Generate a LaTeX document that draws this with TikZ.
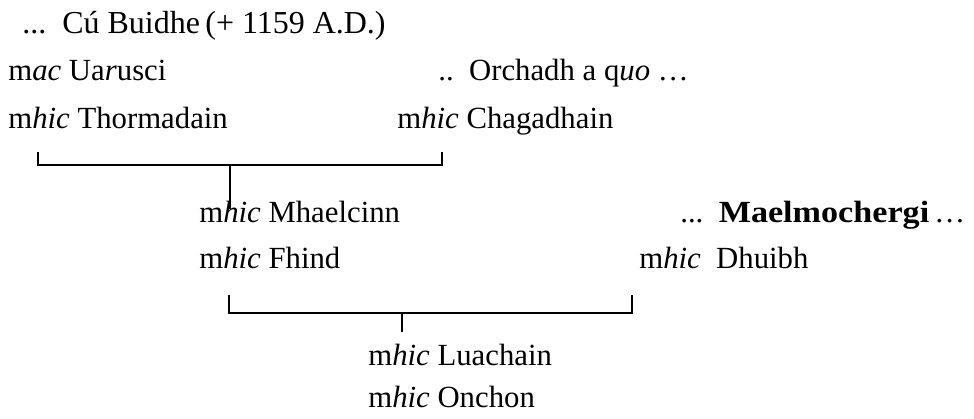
\documentclass[tikz,border=0pt]{standalone}
\usepackage{fontspec}
\setmainfont{Liberation Serif}
\usetikzlibrary{positioning, calc}

\begin{document}
\begin{tikzpicture}[
    line/.style={draw, line width=0.9pt},
    person/.style={anchor=base west, inner sep=0pt,
                   font=\fontsize{17.5}{21}\selectfont}
  ]
  \useasboundingbox (0,0) rectangle (19.48,8.36);

  % First generation
  \node[person, font=\fontsize{18.2}{22}\selectfont] (cubuidhe) at (0.44, 7.70)
    {...\ \ Cú Buidhe\,(+ 1159 A.D.)};
  \node[person] (uarusci) at (0.16, 6.76) {m\textit{ac} Ua\textit{r}usci};
  \node[person] (thormadain) at (0.16, 5.80) {m\textit{hic} Thormadain};
  \node[person] (orchadh) at (8.76, 6.76) {..\ \ Orchadh a q\textit{uo} \dots};
  \node[person] (chagadhain) at (7.94, 5.80) {m\textit{hic} Chagadhain};

  % Bracket 1
  \coordinate (b1l) at (0.76, 5.32);
  \coordinate (b1r) at (8.84, 5.32);
  \coordinate (b1m) at (4.60, 5.06);
  \coordinate (s1) at (4.60, 4.18);
  \draw[line] (b1l) -- ++(0,-0.26) -| (b1r);
  \draw[line] (b1m) -- (s1);

  % Second generation
  \node[person] (mhaelcinn) at (3.98, 3.92) {m\textit{hic} Mhaelcinn};
  \node[person] (fhind) at (3.98, 3.00) {m\textit{hic} Fhind};
  \node[person] (maelmo) at (13.60, 3.92)
    {...\ \ {\bfseries\addfontfeature{FakeStretch=1.11}Maelmochergi}\,\dots};
  \node[person] (dhuibh) at (12.78, 3.00) {m\textit{hic}\ \ Dhuibh};

  % Bracket 2
  \coordinate (b2l) at (4.58, 2.46);
  \coordinate (b2r) at (12.64, 2.46);
  \coordinate (b2m) at (8.04, 2.10);
  \coordinate (s2) at (8.04, 1.72);
  \draw[line] (b2l) -- ++(0,-0.36) -| (b2r);
  \draw[line] (b2m) -- (s2);

  % Third generation
  \node[person] (luachain) at (7.36, 1.06) {m\textit{hic} Luachain};
  \node[person] (onchon) at (7.36, 0.22) {m\textit{hic} Onchon};
\end{tikzpicture}
\end{document}
